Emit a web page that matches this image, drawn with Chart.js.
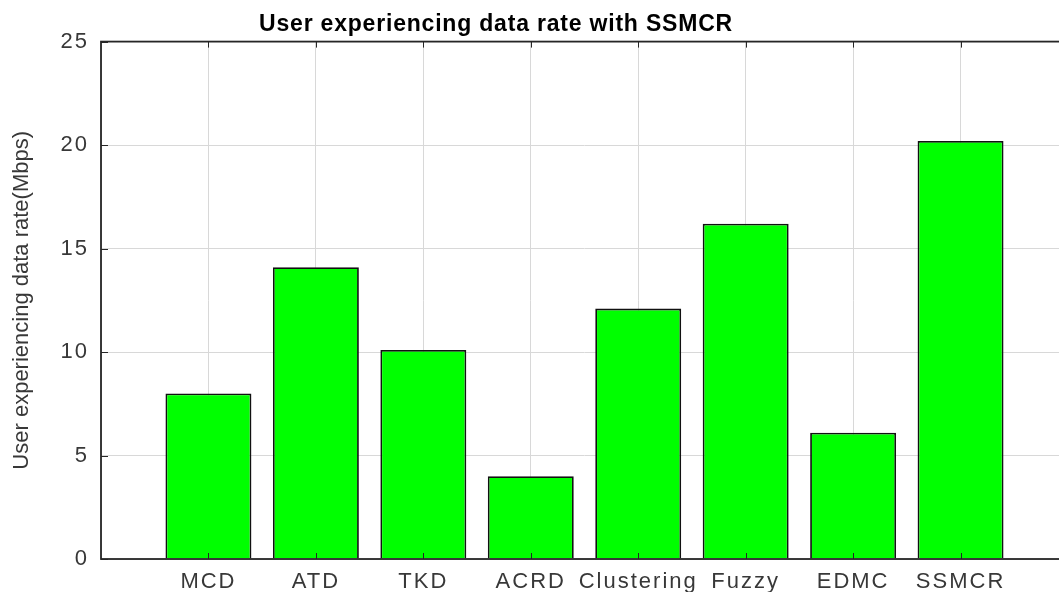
<!DOCTYPE html>
<html>
<head>
<meta charset="utf-8">
<script src="https://cdn.jsdelivr.net/npm/chart.js@4"></script>
<style>
  html, body { margin: 0; padding: 0; background: #fff; overflow: hidden; }
  #wrap { position: absolute; left: 0; top: 0; width: 1078px; height: 592px; }
</style>
</head>
<body>
<div id="wrap"><canvas id="c"></canvas></div>
<script>
const categories = ['MCD', 'ATD', 'TKD', 'ACRD', 'Clustering', 'Fuzzy', 'EDMC', 'SSMCR'];
const dataRates = [8.0, 14.1, 10.1, 4.0, 12.1, 16.2, 6.1, 20.2];
const chartTitle = 'User experiencing data rate with SSMCR';
const yAxisTitle = 'User experiencing data rate(Mbps)';
const yMin = 0, yMax = 25, yStep = 5;

const points = categories.map((c, i) => ({ x: i + 1, y: dataRates[i] }));

function withSpacing(obj, method, spacing) {
  if (!obj || obj['__wrapped_' + method]) return;
  const orig = obj[method];
  obj[method] = function (...args) {
    const ctx = this.ctx || (this.chart && this.chart.ctx);
    const prev = ctx.letterSpacing;
    ctx.letterSpacing = spacing;
    const r = orig.apply(this, args);
    ctx.letterSpacing = prev || '0px';
    return r;
  };
  obj['__wrapped_' + method] = true;
}

const stylePlugin = {
  id: 'styleTweaks',
  afterLayout(chart) {
    const tb = chart.titleBlock;
    if (tb) {
      // title centred a little left of the canvas centre, as in the source figure
      tb.left = 20;
      tb.right = 972;
      withSpacing(tb, 'draw', '0.8px');
    }
    withSpacing(chart.scales.x, 'drawLabels', '2px');
    withSpacing(chart.scales.y, 'drawLabels', '2px');
  },
  afterDraw(chart) {
    const ctx = chart.ctx;
    const { left, top, right, bottom } = chart.chartArea;
    ctx.save();
    ctx.strokeStyle = '#262626';
    ctx.lineWidth = 1.8;
    ctx.strokeRect(left, top, right - left, bottom - top);
    ctx.lineWidth = 1;
    const xs = chart.scales.x, ys = chart.scales.y;
    xs.ticks.forEach(t => {
      if (t.value <= 0 || t.value >= categories.length + 1) return;
      const px = Math.round(xs.getPixelForValue(t.value)) + 0.5;
      ctx.beginPath();
      ctx.moveTo(px, bottom); ctx.lineTo(px, bottom - 6);
      ctx.moveTo(px, top); ctx.lineTo(px, top + 6);
      ctx.stroke();
    });
    ys.ticks.forEach(t => {
      const py = Math.round(ys.getPixelForValue(t.value)) + 0.5;
      ctx.beginPath();
      ctx.moveTo(left, py); ctx.lineTo(left + 7, py);
      ctx.stroke();
    });
    ctx.restore();
  }
};

new Chart(document.getElementById('c'), {
  type: 'bar',
  data: {
    datasets: [{
      data: points,
      backgroundColor: '#00ff00',
      borderColor: '#111111',
      borderWidth: 1.8,
      barPercentage: 0.8,
      categoryPercentage: 1.0
    }]
  },
  options: {
    responsive: true,
    maintainAspectRatio: false,
    animation: false,
    layout: { padding: { left: 0, right: 6, top: 0, bottom: 0 } },
    plugins: {
      legend: { display: false },
      tooltip: { enabled: false },
      title: {
        display: true,
        text: chartTitle,
        color: '#000',
        font: { family: '"Liberation Sans", Arial, sans-serif', size: 23, weight: 'bold' },
        padding: { top: 11, bottom: 3 }
      }
    },
    scales: {
      x: {
        type: 'linear',
        min: 0,
        max: categories.length + 1,
        offset: false,
        grid: { offset: false, color: '#d8d8d8', lineWidth: 1, drawTicks: false },
        border: { display: false },
        ticks: {
          stepSize: 1,
          autoSkip: false,
          maxRotation: 0,
          minRotation: 0,
          padding: 10,
          color: '#383838',
          font: { family: '"Liberation Sans", Arial, sans-serif', size: 22 },
          callback: (v) => (v >= 1 && v <= categories.length) ? categories[v - 1] : ''
        },
        afterFit(scale) { scale.height = 33; }
      },
      y: {
        min: yMin,
        max: yMax,
        grid: { color: '#d8d8d8', lineWidth: 1, drawTicks: false },
        border: { display: false },
        ticks: {
          stepSize: yStep,
          padding: 12,
          color: '#383838',
          font: { family: '"Liberation Sans", Arial, sans-serif', size: 22 }
        },
        title: {
          display: true,
          text: yAxisTitle,
          color: '#383838',
          font: { family: '"Liberation Sans", Arial, sans-serif', size: 22 },
          padding: { top: 9, bottom: 0 }
        },
        afterFit(scale) { scale.width = 101; }
      }
    }
  },
  plugins: [stylePlugin]
});
</script>
</body>
</html>
